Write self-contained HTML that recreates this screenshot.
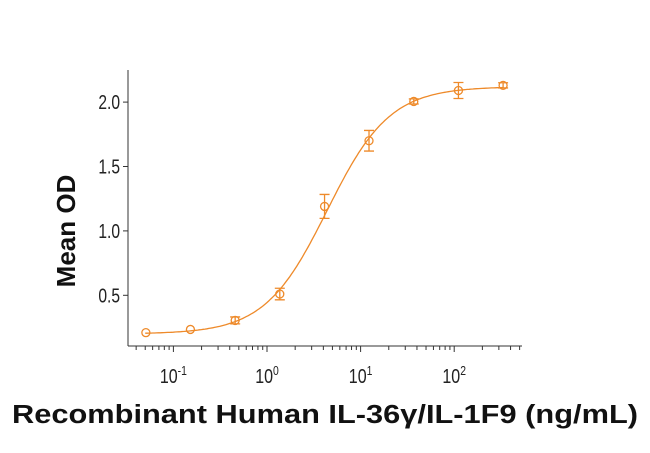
<!DOCTYPE html>
<html><head><meta charset="utf-8"><style>
html,body{margin:0;padding:0;background:#fff;}
svg{display:block;}
</style></head><body>
<svg id="chart" width="650" height="453" viewBox="0 0 650 453" xmlns="http://www.w3.org/2000/svg">
<g id="axes"></g>
<g id="plot"></g>
<text transform="translate(75,231) rotate(-90)" text-anchor="middle" font-family="Liberation Sans, sans-serif" font-weight="bold" font-size="26" fill="#111">Mean OD</text>
<text x="12" y="423" textLength="626" lengthAdjust="spacingAndGlyphs" font-family="Liberation Sans, sans-serif" font-weight="bold" font-size="25.5" fill="#111">Recombinant Human IL-36γ/IL-1F9 (ng/mL)</text>
</svg>
<script>
const concentrations = [0.0508, 0.152, 0.457, 1.37, 4.12, 12.3, 37, 111, 333];
const meanOD = [0.21, 0.235, 0.305, 0.51, 1.19, 1.70, 2.005, 2.09, 2.13];
const errorOD = [0, 0, 0.027, 0.045, 0.093, 0.08, 0.02, 0.062, 0.02];
const yTicks = [0.5, 1.0, 1.5, 2.0];
const yTickLabels = ["0.5", "1.0", "1.5", "2.0"];
const xDecades = [-1, 0, 1, 2];
const fitBottom = 0.2, fitTop = 2.12, fitEC50 = 4.4, fitHill = 1.3;

const NS = "http://www.w3.org/2000/svg";
const color = "#ee8a2a";
function xScale(v){ return 267 + (Math.log10(v)) * 93.6; }
function yScale(v){ return 295.3 - (v - 0.5) * 128.8; }
function mk(tag, attrs, parent){
  const e = document.createElementNS(NS, tag);
  for (const k in attrs) e.setAttribute(k, attrs[k]);
  parent.appendChild(e); return e;
}
const axes = document.getElementById('axes');
const plot = document.getElementById('plot');
const yAxis = mk('line', {x1:128, y1:70, x2:128, y2:346, stroke:'#333', 'stroke-width':1}, axes);


const xAxis = mk('line', {x1:128, y1:346, x2:522, y2:346, stroke:'#333', 'stroke-width':1}, axes);


yTicks.forEach((t, i) => {
  const y = yScale(t);
  const tk = mk('line', {x1:123, y1:y, x2:128, y2:y, stroke:'#333'}, axes);
  
  
  const lb = mk('text', {x:120, y:y+7, 'text-anchor':'end', 'font-family':'Liberation Sans, sans-serif', 'font-size':20, fill:'#222', transform:`translate(${120*0.22},0) scale(0.78,1)`}, axes);
  lb.textContent = yTickLabels[i];
  
  
});
for (let d = -2; d <= 2; d++) {
  for (let m = 1; m <= 9; m++) {
    const v = m * Math.pow(10, d);
    if (v < 0.04 || v > 500) continue;
    const x = xScale(v);
    const major = m === 1;
    const tk = mk('line', {x1:x, y1:346, x2:x, y2:major ? 352 : 350, stroke:'#333'}, axes);
    
    
  }
}
xDecades.forEach(d => {
  const x = xScale(Math.pow(10, d));
  const lb = mk('text', {x:x/0.8, y:383, 'text-anchor':'middle', 'font-family':'Liberation Sans, sans-serif', 'font-size':20, fill:'#222', transform:'scale(0.8,1)'}, axes);
  
  
  const t1 = mk('tspan', {}, lb); t1.textContent = '10';
  const t2 = mk('tspan', {dy:-8, 'font-size':13}, lb); t2.textContent = String(d);
});
let pts = [];
for (let lx = Math.log10(0.05); lx <= Math.log10(340); lx += 0.02) {
  const c = Math.pow(10, lx);
  const v = fitBottom + (fitTop - fitBottom) / (1 + Math.pow(fitEC50 / c, fitHill));
  pts.push(xScale(c).toFixed(1) + ',' + yScale(v).toFixed(1));
}
const curve = mk('polyline', {points:pts.join(' '), fill:'none', stroke:color, 'stroke-width':1.3}, plot);


concentrations.forEach((c, i) => {
  const x = xScale(c), y = yScale(meanOD[i]);
  if (errorOD[i] > 0) {
    const yt = yScale(meanOD[i] + errorOD[i]), yb = yScale(meanOD[i] - errorOD[i]);
    const eb = mk('path', {d:`M${x},${yt}V${yb}M${x-5},${yt}H${x+5}M${x-5},${yb}H${x+5}`, stroke:color, 'stroke-width':1.3, fill:'none'}, plot);
    
    
  }
  const pt = mk('circle', {cx:x, cy:y, r:4, fill:'none', stroke:color, 'stroke-width':1.3}, plot);
  
  
});
</script>
</body></html>
